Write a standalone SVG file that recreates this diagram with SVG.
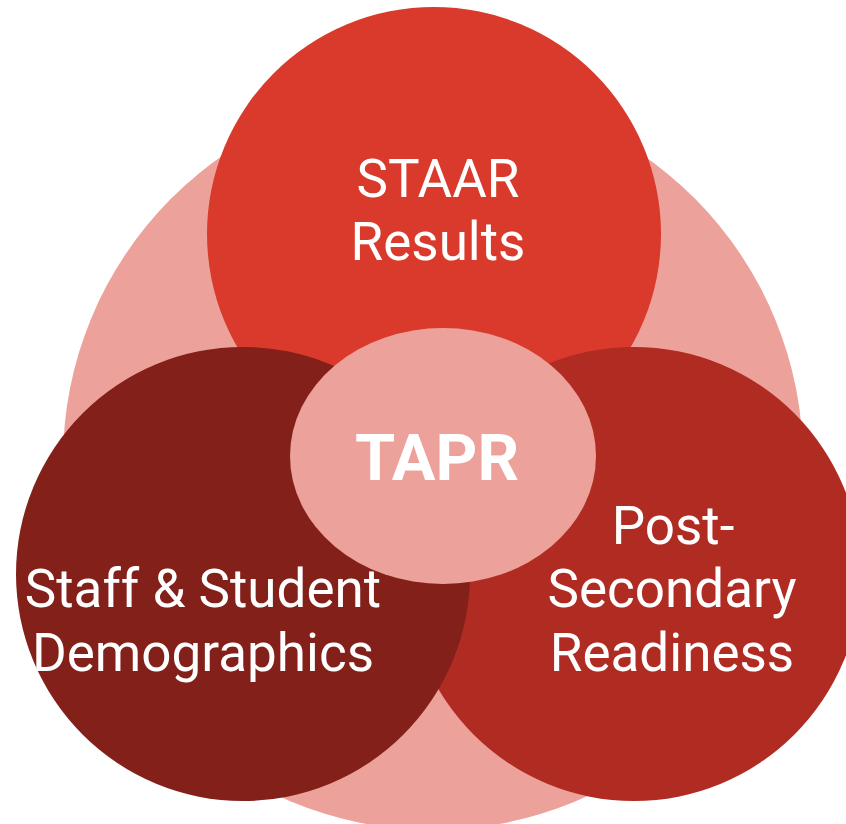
<svg xmlns="http://www.w3.org/2000/svg" width="846" height="824" viewBox="0 0 846 824">
<style>
.t{font-family:Roboto,"Liberation Sans",sans-serif;font-size:53px;fill:#ffffff;text-anchor:middle}
.b{font-weight:bold;font-size:65px}
</style>
<rect width="846" height="824" fill="#ffffff"/>
<g id="background"><circle cx="433" cy="460" r="370" fill="#ECA29A"/></g>
<g id="staar"><circle cx="434" cy="234" r="227" fill="#D93A2B"/>
<text class="t" x="438" y="197">STAAR</text>
<text class="t" x="438" y="260">Results</text></g>
<g id="postsecondary"><circle cx="634" cy="574" r="227" fill="#B02B22"/>
<text class="t" x="673" y="544">Post-</text>
<text class="t" x="672" y="607">Secondary</text>
<text class="t" x="672" y="671">Readiness</text></g>
<g id="demographics"><circle cx="243" cy="574" r="227" fill="#822019"/>
<text class="t" x="203" y="607">Staff &amp; Student</text>
<text class="t" x="203" y="671">Demographics</text></g>
<g id="tapr"><ellipse cx="443" cy="456" rx="153" ry="128" fill="#ECA29A"/>
<text class="t b" x="437" y="480">TAPR</text></g>
<g id="connectors"/>
</svg>
